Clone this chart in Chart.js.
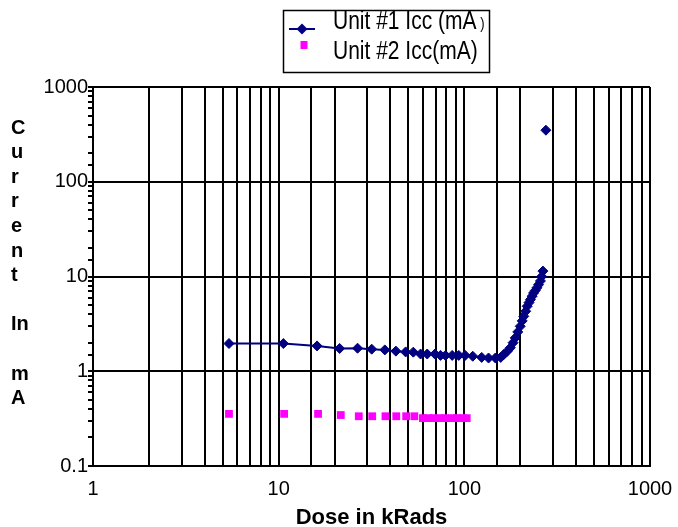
<!DOCTYPE html>
<html><head><meta charset="utf-8">
<script src="https://cdn.jsdelivr.net/npm/chart.js@4"></script>
<style>html,body{margin:0;padding:0;background:#fff}</style>
</head><body>
<canvas id="c" width="678" height="527"></canvas>
<script>
const unit1Dose = [5.4, 10.6, 16.1, 21.3, 26.6, 31.7, 37.3, 42.8, 48.3, 53.1, 58.1, 63.1, 69.4, 74.4, 79.2, 86, 93.3, 101, 111, 124, 135, 147, 157, 163, 170, 177, 183, 188, 194, 200, 205, 209, 214, 218, 223, 227, 232, 236, 241, 246, 251, 257, 261, 265, 275];
const unit1Icc = [1.96, 1.96, 1.85, 1.74, 1.75, 1.71, 1.68, 1.63, 1.6, 1.59, 1.52, 1.52, 1.52, 1.47, 1.47, 1.47, 1.47, 1.47, 1.44, 1.4, 1.38, 1.38, 1.4, 1.5, 1.62, 1.77, 2.0, 2.25, 2.6, 2.98, 3.4, 3.8, 4.3, 4.85, 5.3, 5.7, 6.2, 6.7, 7.1, 7.6, 8.2, 8.97, 10, 11.4, 350];
const unit2Dose = [5.4, 10.7, 16.3, 21.6, 27, 31.9, 37.6, 43, 48.6, 53.8, 59.8, 64, 68.4, 73.6, 79, 86, 91.6, 97.6, 103];
const unit2Icc = [0.355, 0.355, 0.355, 0.345, 0.335, 0.335, 0.335, 0.335, 0.335, 0.335, 0.32, 0.32, 0.32, 0.32, 0.32, 0.32, 0.32, 0.32, 0.32];
const xTickLabels = ['1', '10', '100', '1000'];
const yTickLabels = ['0.1', '1', '10', '100', '1000'];
const seriesNames = ['Unit #1 Icc (mA', 'Unit #2 Icc(mA)'];
const seriesNameTail = [' )', ''];
const yTitleLines = ['C', 'u', 'r', 'r', 'e', 'n', 't', '', 'In', '', 'm', 'A'];
const xTitle = 'Dose in kRads';

const NAVY = '#000080';
const PINK = '#ff00ff';
const FONT = "'Liberation Sans', Arial, sans-serif";

function pts(xs, ys) { return xs.map((x, i) => ({ x: x, y: ys[i] })); }
function labelFor(list, v) {
  const s = list.find(t => Math.abs(parseFloat(t) - v) < 1e-6 * v);
  return s === undefined ? '' : s;
}
function isDecade(v) { const l = Math.log10(v); return Math.abs(l - Math.round(l)) < 1e-6; }

const decor = {
  id: 'decor',
  afterDraw(chart) {
    const ctx = chart.ctx;
    ctx.save();
    // legend box
    ctx.strokeStyle = '#000';
    ctx.lineWidth = 1.5;
    ctx.strokeRect(283.5, 10.5, 206, 62);
    const ds = chart.data.datasets;
    // series 1 sample
    ctx.strokeStyle = ds[0].borderColor;
    ctx.lineWidth = 2;
    ctx.beginPath(); ctx.moveTo(289, 29); ctx.lineTo(315, 29); ctx.stroke();
    ctx.fillStyle = ds[0].backgroundColor;
    ctx.beginPath(); ctx.moveTo(302, 23.5); ctx.lineTo(307.5, 29); ctx.lineTo(302, 34.5); ctx.lineTo(296.5, 29); ctx.closePath(); ctx.fill();
    // series 2 sample
    ctx.fillStyle = ds[1].backgroundColor;
    ctx.fillRect(300.5, 41, 7, 8);
    // texts (vertically stretched like the reference)
    ctx.fillStyle = '#000';
    ctx.textBaseline = 'middle';
    ctx.textAlign = 'left';
    ctx.save();
    ctx.translate(333, 22); ctx.scale(1, 1.25);
    ctx.font = '21px ' + FONT;
    ctx.fillText(seriesNames[0], 0, 0);
    const w = ctx.measureText(seriesNames[0]).width;
    ctx.font = '13px ' + FONT;
    ctx.fillText(seriesNameTail[0], w, 2);
    ctx.restore();
    ctx.save();
    ctx.translate(333, 52); ctx.scale(1, 1.25);
    ctx.font = '21px ' + FONT;
    ctx.fillText(seriesNames[1], 0, 0);
    ctx.restore();
    // y title, one letter group per line
    ctx.font = 'bold 20px ' + FONT;
    ctx.textAlign = 'left';
    yTitleLines.forEach((t, i) => { if (t) ctx.fillText(t, 11, 128 + i * 24.6); });
    ctx.restore();
  }
};

new Chart(document.getElementById('c'), {
  type: 'line',
  data: {
    datasets: [
      {
        label: seriesNames[0] + seriesNameTail[0],
        data: pts(unit1Dose, unit1Icc),
        borderColor: NAVY, backgroundColor: NAVY, borderWidth: 2,
        pointStyle: 'rectRot', pointRadius: 5, pointBorderWidth: 1, pointBorderColor: NAVY,
        tension: 0,
        segment: { borderColor: c => (c.p1DataIndex === unit1Icc.length - 1 ? 'rgba(0,0,0,0)' : NAVY) }
      },
      {
        label: seriesNames[1],
        data: pts(unit2Dose, unit2Icc),
        showLine: false,
        borderColor: PINK, backgroundColor: PINK,
        pointStyle: 'rect', pointRadius: 5.5, pointBorderWidth: 0
      }
    ]
  },
  options: {
    responsive: false, animation: false, devicePixelRatio: 1,
    layout: { padding: { top: 87, right: 28, left: 0, bottom: 0 } },
    plugins: { legend: { display: false }, tooltip: { enabled: false } },
    scales: {
      x: {
        type: 'logarithmic', min: 1, max: 1000,
        afterFit: s => { s.height = 61; },
        grid: { color: '#000', lineWidth: 2, drawTicks: true, tickLength: 11, tickColor: 'rgba(0,0,0,0)' },
        border: { color: '#000', width: 2 },
        ticks: { autoSkip: false, maxRotation: 0, padding: 0, color: '#000', font: { family: FONT, size: 20 },
                 callback: v => labelFor(xTickLabels, v) },
        title: { display: true, text: xTitle, color: '#000', font: { family: FONT, size: 22, weight: 'bold', lineHeight: 1 }, padding: { top: 0, bottom: -2 } }
      },
      y: {
        type: 'logarithmic', min: 0.1, max: 1000,
        afterFit: s => { s.width = 93; },
        grid: { color: c => (isDecade(c.tick.value) ? '#000' : 'rgba(0,0,0,0)'), tickColor: '#000', lineWidth: 2, tickLength: 5 },
        border: { color: '#000', width: 2 },
        ticks: { autoSkip: false, padding: 0, color: '#000', font: { family: FONT, size: 20 },
                 callback: v => labelFor(yTickLabels, v) }
      }
    }
  },
  plugins: [decor]
});
</script>
</body></html>
